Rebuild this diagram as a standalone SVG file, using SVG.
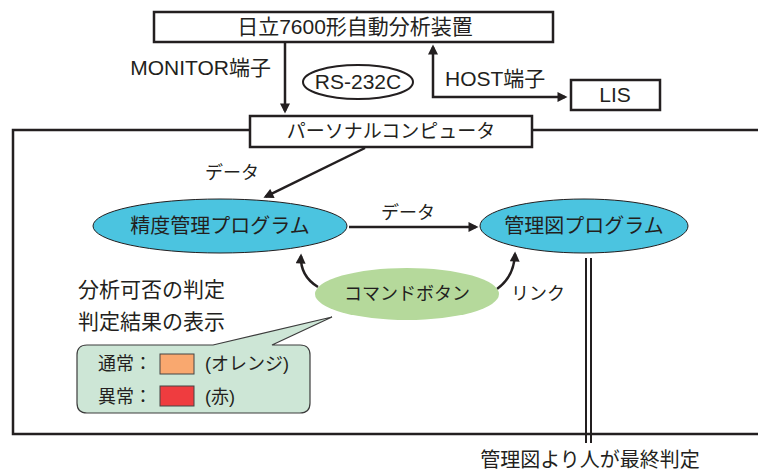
<svg xmlns="http://www.w3.org/2000/svg" width="758" height="470" viewBox="0 0 758 470">
<defs>
<style>
text{font-family:"Liberation Sans","Noto Sans CJK JP",sans-serif;fill:#231f20;font-size:20px}
.m{text-anchor:middle}
.e{text-anchor:end}
.box{fill:#fff;stroke:#231f20;stroke-width:2.5}
.ln{fill:none;stroke:#231f20;stroke-width:2.5}
.blue{fill:#4bc4e0;stroke:#231f20;stroke-width:1}
.s18{font-size:18px}
.s21{font-size:21px}
</style>
<marker id="ah" viewBox="0 0 10 10" refX="7.5" refY="5" markerWidth="12" markerHeight="10" markerUnits="userSpaceOnUse" orient="auto-start-reverse">
<path d="M0,0 L10,5 L0,10 z" fill="#231f20"/>
</marker>
</defs>
<rect x="0" y="0" width="758" height="470" fill="#fff"/>
<g id="frame">
<rect x="13" y="130" width="800" height="304" class="ln"/>
</g>
<g id="connectors">
<line x1="285" y1="42" x2="285" y2="111" class="ln" marker-end="url(#ah)"/>
<path d="M433,47 L433,97 L565,97" class="ln" marker-start="url(#ah)" marker-end="url(#ah)"/>
<line x1="365" y1="148" x2="265.7" y2="196.7" class="ln" marker-end="url(#ah)"/>
<line x1="349" y1="227" x2="476" y2="227" class="ln" marker-end="url(#ah)"/>
<path d="M318,287 Q300,276 301,256" class="ln" marker-end="url(#ah)"/>
<path d="M497,289 Q514,277 515,254" class="ln" marker-end="url(#ah)"/>
<line x1="586" y1="258" x2="586" y2="443" stroke="#231f20" stroke-width="2"/>
<line x1="591" y1="258" x2="591" y2="443" stroke="#231f20" stroke-width="2"/>
</g>
<g id="analyzer">
<rect x="154" y="12" width="399" height="30" class="box"/>
<text x="355" y="34" class="m s21">日立7600形自動分析装置</text>
</g>
<g id="rs232c">
<ellipse cx="358" cy="82" rx="55" ry="17" fill="#fff" stroke="#231f20" stroke-width="2"/>
<text x="358" y="89" class="m s21">RS-232C</text>
</g>
<g id="lis">
<rect x="571" y="80" width="89" height="30" class="box"/>
<text x="615" y="102" class="m s21">LIS</text>
</g>
<g id="pc">
<rect x="250" y="116" width="282" height="31" class="box"/>
<text x="391" y="138" class="m" style="font-size:19px">パーソナルコンピュータ</text>
</g>
<g id="seido">
<ellipse cx="220" cy="226" rx="127" ry="27" class="blue"/>
<text x="220" y="233" class="m">精度管理プログラム</text>
</g>
<g id="kanrizu">
<ellipse cx="584" cy="226" rx="104" ry="27" class="blue"/>
<text x="584" y="233" class="m">管理図プログラム</text>
</g>
<g id="command">
<ellipse cx="407" cy="294" rx="92" ry="26" fill="#b5d99b"/>
<text x="407" y="300" class="m s18">コマンドボタン</text>
</g>
<g id="callout">
<path d="M87,345 L213,345 L332,317 L272,345 L300,345 Q310,345 310,355 L310,403 Q310,413 300,413 L87,413 Q77,413 77,403 L77,355 Q77,345 87,345 Z" fill="#cde6d6" stroke="#3c3c3c" stroke-width="1.2"/>
<text x="98" y="370" class="s18">通常：</text>
<rect x="160" y="354" width="34" height="20" fill="#f9a86f" stroke="#444" stroke-width="1"/>
<text x="205" y="370" class="s18">(オレンジ)</text>
<text x="98" y="403" class="s18">異常：</text>
<rect x="160" y="386" width="34" height="20" fill="#ef3c3f" stroke="#444" stroke-width="1"/>
<text x="205" y="403" class="s18">(赤)</text>
</g>
<g id="labels">
<text x="271" y="75" class="e s21">MONITOR端子</text>
<text x="445" y="86" class="s21">HOST端子</text>
<text x="232" y="179" class="m s18">データ</text>
<text x="408" y="219" class="m s18">データ</text>
<text x="511" y="300" class="s18">リンク</text>
<text x="78" y="297" class="s21">分析可否の判定</text>
<text x="78" y="329" class="s21">判定結果の表示</text>
<text x="590" y="467" class="m">管理図より人が最終判定</text>
</g>
</svg>
